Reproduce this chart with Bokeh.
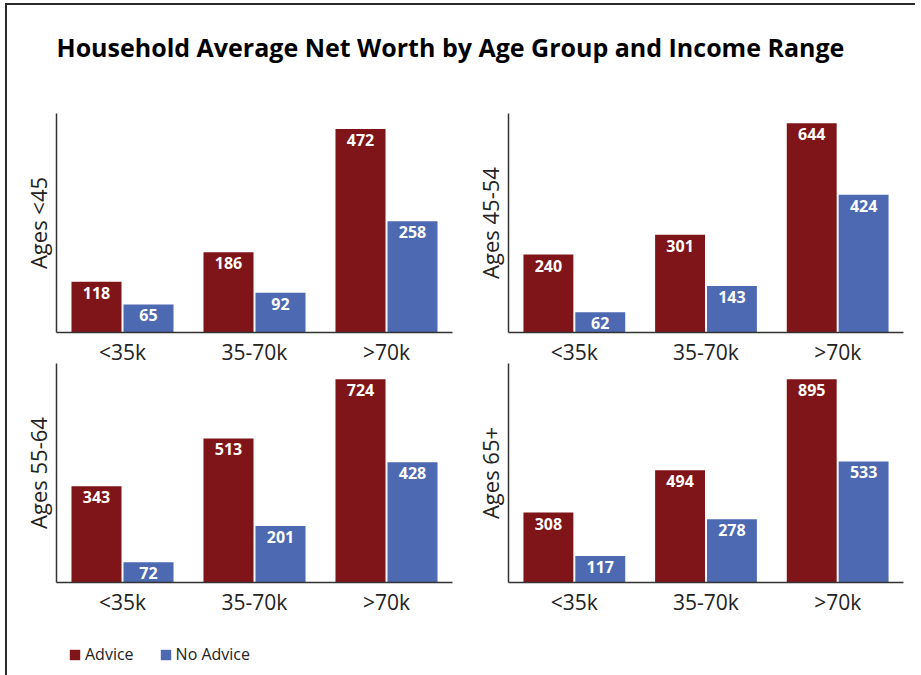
from bokeh.plotting import figure
from bokeh.models import ColumnDataSource, FactorRange, Range1d, FixedTicker, Legend, LegendItem, Label
from bokeh.layouts import column, row
from bokeh.transform import dodge
from bokeh.core.properties import value
from bokeh.embed import file_html
from bokeh.resources import INLINE

# ---------------- data ----------------
chart_title = "Household Average Net Worth by Age Group and Income Range"
income = ["<35k", "35-70k", ">70k"]
series = ["Advice", "No Advice"]
age_groups = ["Ages <45", "Ages 45-54", "Ages 55-64", "Ages 65+"]

advice_lt45 = [118, 186, 472]
no_advice_lt45 = [65, 92, 258]
advice_45_54 = [240, 301, 644]
no_advice_45_54 = [62, 143, 424]
advice_55_64 = [343, 513, 724]
no_advice_55_64 = [72, 201, 428]
advice_65p = [308, 494, 895]
no_advice_65p = [117, 278, 533]

y_axis_max = [508, 674, 780, 964]

# ---------------- style ----------------
RED = "#7F1518"
BLUE = "#4D69B1"
FONT = "Open Sans"
AXIS_COLOR = "#333333"
TEXT_COLOR = "#222222"
BAR_W = 0.379
OFF = 0.197


def panel(label, adv, noadv, ymax, mb_left, mb_right, mb_top, mb_bottom, fw):
    src = ColumnDataSource(dict(
        cat=income, adv=adv, noadv=noadv,
        adv_t=[str(v) for v in adv], noadv_t=[str(v) for v in noadv],
    ))
    p = figure(x_range=FactorRange(*income), y_range=Range1d(0, ymax),
               frame_width=fw, frame_height=219,
               min_border_left=mb_left, min_border_right=mb_right,
               min_border_top=mb_top, min_border_bottom=mb_bottom,
               output_backend="svg", toolbar_location=None)
    p.vbar(x=dodge("cat", -OFF, range=p.x_range), top="adv", width=BAR_W, source=src,
           fill_color=RED, line_color=None)
    p.vbar(x=dodge("cat", OFF, range=p.x_range), top="noadv", width=BAR_W, source=src,
           fill_color=BLUE, line_color=None)
    for col, txt, off in (("adv", "adv_t", -OFF), ("noadv", "noadv_t", OFF)):
        p.text(x=dodge("cat", off, range=p.x_range), y=col, text=txt, source=src,
               text_align="center", text_baseline="top", y_offset=5,
               text_color="white", text_font=value(FONT), text_font_size="16px",
               text_font_style="bold")
    p.xgrid.visible = False
    p.ygrid.visible = False
    p.outline_line_color = None
    p.background_fill_color = "white"
    p.border_fill_color = "white"

    ya = p.yaxis[0]
    ya.ticker = FixedTicker(ticks=[])
    ya.major_tick_line_color = None
    ya.minor_tick_line_color = None
    ya.major_tick_out = 0
    ya.major_label_standoff = 0
    ya.axis_label = label
    ya.axis_label_standoff = 4
    ya.axis_label_text_font = FONT
    ya.axis_label_text_font_size = "22px"
    ya.axis_label_text_font_style = "normal"
    ya.axis_label_text_color = TEXT_COLOR
    ya.axis_line_color = AXIS_COLOR
    ya.axis_line_width = 1.5

    xa = p.xaxis[0]
    xa.major_tick_line_color = None
    xa.minor_tick_line_color = None
    xa.major_tick_out = 0
    xa.major_label_standoff = 5
    xa.major_label_text_font = FONT
    xa.major_label_text_font_size = "21px"
    xa.major_label_text_color = TEXT_COLOR
    xa.axis_line_color = AXIS_COLOR
    xa.axis_line_width = 1.5
    return p


p1 = panel(age_groups[0], advice_lt45, no_advice_lt45, y_axis_max[0], 49, 8, 13, 31, 396)
p2 = panel(age_groups[1], advice_45_54, no_advice_45_54, y_axis_max[1], 48, 12, 13, 31, 395)
p3 = panel(age_groups[2], advice_55_64, no_advice_55_64, y_axis_max[2], 49, 8, 1, 35, 396)
p4 = panel(age_groups[3], advice_65p, no_advice_65p, y_axis_max[3], 48, 12, 1, 35, 395)
for p in (p3, p4):
    p.border_fill_alpha = 0

# title strip
TW, TH = 908, 95
tf = figure(width=TW, height=TH, x_range=Range1d(0, TW), y_range=Range1d(TH, 0),
            min_border=0, x_axis_location=None, y_axis_location=None,
            output_backend="svg", toolbar_location=None)
tf.grid.visible = False
tf.outline_line_color = None
tf.add_layout(Label(x=49, y=41, text=chart_title, text_font=FONT, text_font_size="25px",
                    text_font_style="bold", text_color="black", text_baseline="alphabetic"))

# legend strip
LH = 57
lf = figure(width=TW, height=LH, x_range=Range1d(0, 1), y_range=Range1d(0, 1),
            min_border=0, x_axis_location=None, y_axis_location=None,
            output_backend="svg", toolbar_location=None)
lf.grid.visible = False
lf.outline_line_color = None
# renderers kept outside the visible range: only their legend swatches show
r_adv = lf.vbar(x=[5], top=[1], width=0.1, fill_color=RED, line_color=None)
r_noadv = lf.vbar(x=[6], top=[1], width=0.1, fill_color=BLUE, line_color=None)
legend = Legend(items=[LegendItem(label=series[0], renderers=[r_adv]),
                       LegendItem(label=series[1], renderers=[r_noadv])],
                location=(61, 10), orientation="horizontal",
                glyph_width=13, glyph_height=13, label_standoff=4, spacing=25,
                padding=0, margin=0, border_line_color=None, background_fill_alpha=0,
                label_text_font=FONT, label_text_font_size="16px", label_text_color=TEXT_COLOR)
lf.add_layout(legend)

layout = column(tf, row(p1, p2), row(p3, p4, margin=(-6, 0, 0, 0)), lf,
                margin=(3, 0, 0, 5),
                styles={"border-top": "2px solid #2a2a2a", "border-left": "2px solid #2a2a2a"})

open("out.html", "w").write(file_html(layout, INLINE))
